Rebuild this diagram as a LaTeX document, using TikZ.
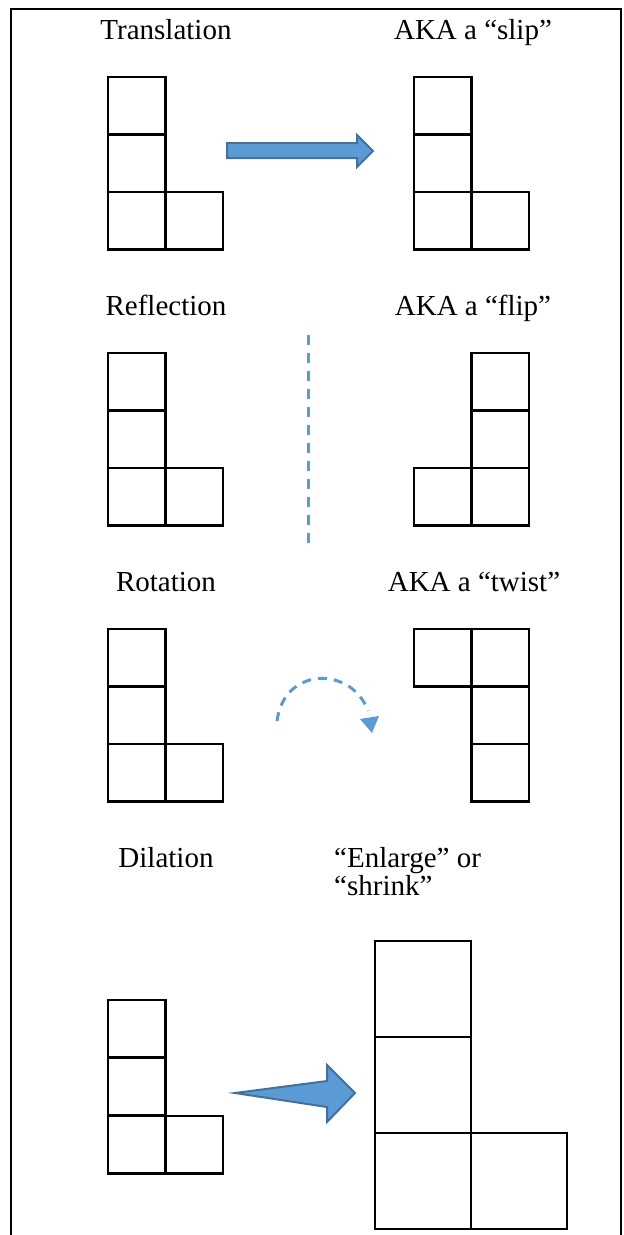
\documentclass[tikz,border=0pt]{standalone}
\usepackage{fontspec}
\setmainfont{Liberation Serif}
\definecolor{arrfill}{HTML}{5B9BD5}
\definecolor{arrline}{HTML}{41719C}
\begin{document}
\begin{tikzpicture}[x=1pt,y=-1pt,
  sq/.style={draw=black,line width=2.5pt},
  lbl/.style={anchor=base,inner sep=0pt,font=\fontsize{29}{33}\selectfont},
  blockarrow/.style={fill=arrfill,draw=arrline,line width=2pt,line join=miter},
  bluedash/.style={draw=arrfill,line width=3pt,dash pattern=on 10pt off 8pt}]
\useasboundingbox (0,0) rectangle (624,1235);
% frame
\draw[line width=2.5pt] (11,1236) -- (11,9) -- (621,9) -- (621,1236);
% labels
\node[lbl] (t1) at (166,39) {Translation};
\node[lbl] (t2) at (473,39) {AKA a “slip”};
\node[lbl] (r1) at (166,315) {Reflection};
\node[lbl] (r2) at (473,315) {AKA a “flip”};
\node[lbl] (o1) at (166,591) {Rotation};
\node[lbl] (o2) at (474,591) {AKA a “twist”};
\node[lbl] (d1) at (166,867) {Dilation};
\node[lbl,anchor=base west] (d2) at (334,867) {“Enlarge” or};
\node[lbl,anchor=base west] (d3) at (334,895) {“shrink”};
% translation shapes
\foreach \x/\y in {108/77,108/134.5,108/192,165.5/192}
  \draw[sq] (\x,\y) rectangle ++(57.5,57.5);
\foreach \x/\y in {414/77,414/134.5,414/192,471.5/192}
  \draw[sq] (\x,\y) rectangle ++(57.5,57.5);
\draw[blockarrow] (227,143) -- (357,143) -- (357,135) -- (373,151) -- (357,167) -- (357,158) -- (227,158) -- cycle;
% reflection shapes
\foreach \x/\y in {108/353,108/410.5,108/468,165.5/468}
  \draw[sq] (\x,\y) rectangle ++(57.5,57.5);
\foreach \x/\y in {471.5/353,471.5/410.5,471.5/468,414/468}
  \draw[sq] (\x,\y) rectangle ++(57.5,57.5);
\draw[bluedash] (308,335) -- (308,545);
% rotation shapes
\foreach \x/\y in {108/629,108/686.5,108/744,165.5/744}
  \draw[sq] (\x,\y) rectangle ++(57.5,57.5);
\foreach \x/\y in {414/629,471.5/629,471.5/686.5,471.5/744}
  \draw[sq] (\x,\y) rectangle ++(57.5,57.5);
\draw[bluedash,dash pattern=on 9pt off 7pt] (277,721) .. controls (284,666) and (352,666) .. (368,711);
\fill[arrfill] (360,719) -- (379,716) -- (372,733) -- cycle;
% dilation shapes
\foreach \x/\y in {108/1000,108/1058,108/1116,165.5/1116}
  \draw[sq] (\x,\y) rectangle ++(57.5,57.5);
\foreach \x/\y in {375/941,375/1037,375/1133,471/1133}
  \draw[sq] (\x,\y) rectangle ++(96,96);
\draw[blockarrow] (235,1093) -- (327,1081) -- (327,1065) -- (355,1093) -- (327,1122) -- (327,1107) -- cycle;
\end{tikzpicture}
\end{document}
